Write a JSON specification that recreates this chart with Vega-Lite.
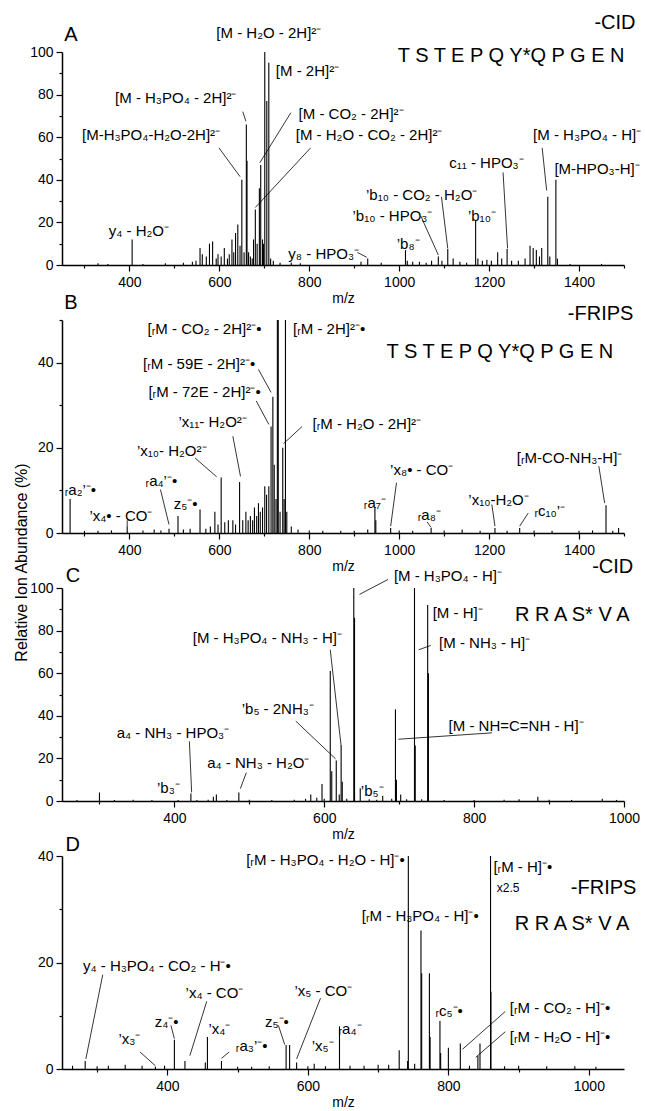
{
"$schema":"https://vega.github.io/schema/vega-lite/v6.json",
"padding":{"left":12,"top":13,"right":0,"bottom":0},
"background":"white",
"spacing":55,
"bounds":"flush",
"config":{
 "view":{"stroke":null},
 "axis":{"domainColor":"black","domainWidth":1.5,"tickColor":"black","tickWidth":1.2,"labelFont":"Liberation Sans","labelFontSize":14,"labelColor":"black","labelPadding":3,"titleFont":"Liberation Sans","titleFontSize":14,"titleFontWeight":"normal","titleColor":"black","grid":false,"labelOverlap":false,"labelBound":false,"labelFlush":false},
 "axisX":{"labelPadding":4,"titlePadding":2}
},
"datasets":{
"peaks":[
{"p":"A","mz":330,"v":0.8},{"p":"A","mz":352,"v":0.5},{"p":"A","mz":406,"v":12},{"p":"A","mz":430,"v":0.5},{"p":"A","mz":480,"v":0.8},{"p":"A","mz":520,"v":1},{"p":"A","mz":540,"v":1.5},{"p":"A","mz":548,"v":2},
{"p":"A","mz":557,"v":8},{"p":"A","mz":562,"v":5},{"p":"A","mz":571,"v":4},{"p":"A","mz":578,"v":10},{"p":"A","mz":585,"v":11},{"p":"A","mz":593,"v":3},{"p":"A","mz":597,"v":5},{"p":"A","mz":604,"v":4},{"p":"A","mz":611,"v":8},{"p":"A","mz":618,"v":3},{"p":"A","mz":622,"v":5},{"p":"A","mz":628,"v":12},{"p":"A","mz":632,"v":6},{"p":"A","mz":636,"v":15},{"p":"A","mz":641,"v":19},{"p":"A","mz":646,"v":9},{"p":"A","mz":650,"v":40},{"p":"A","mz":655,"v":6},{"p":"A","mz":660,"v":66},{"p":"A","mz":661.5,"v":49},{"p":"A","mz":665,"v":6},{"p":"A","mz":669,"v":4},{"p":"A","mz":673,"v":3},{"p":"A","mz":676,"v":12},{"p":"A","mz":680,"v":26},{"p":"A","mz":684,"v":10},{"p":"A","mz":689,"v":36},{"p":"A","mz":692,"v":47},{"p":"A","mz":696,"v":12},{"p":"A","mz":698,"v":10},{"p":"A","mz":701,"v":100},{"p":"A","mz":705.5,"v":77},{"p":"A","mz":710,"v":95},{"p":"A","mz":714,"v":3},{"p":"A","mz":720,"v":2},{"p":"A","mz":735,"v":1},{"p":"A","mz":760,"v":1},{"p":"A","mz":780,"v":0.8},
{"p":"A","mz":915,"v":1.5},{"p":"A","mz":930,"v":3},{"p":"A","mz":960,"v":1},{"p":"A","mz":1014,"v":7},{"p":"A","mz":1018,"v":2},{"p":"A","mz":1030,"v":1.5},{"p":"A","mz":1045,"v":1.5},{"p":"A","mz":1060,"v":1},{"p":"A","mz":1072,"v":2},{"p":"A","mz":1087,"v":4},{"p":"A","mz":1095,"v":2},{"p":"A","mz":1108,"v":7.5},{"p":"A","mz":1120,"v":3},{"p":"A","mz":1135,"v":1.5},{"p":"A","mz":1150,"v":1},{"p":"A","mz":1170,"v":21},{"p":"A","mz":1175,"v":3},{"p":"A","mz":1185,"v":2},{"p":"A","mz":1195,"v":2.5},{"p":"A","mz":1205,"v":2},{"p":"A","mz":1219,"v":6},{"p":"A","mz":1228,"v":3},{"p":"A","mz":1240,"v":7.5},{"p":"A","mz":1250,"v":2},{"p":"A","mz":1265,"v":2},{"p":"A","mz":1280,"v":3},{"p":"A","mz":1291,"v":9},{"p":"A","mz":1298,"v":8},{"p":"A","mz":1305,"v":7},{"p":"A","mz":1312,"v":4},{"p":"A","mz":1317,"v":8},{"p":"A","mz":1330.5,"v":32},{"p":"A","mz":1335,"v":4},{"p":"A","mz":1348.5,"v":40},{"p":"A","mz":1352,"v":3},{"p":"A","mz":1380,"v":0.5},{"p":"A","mz":1450,"v":0.5},
{"p":"B","mz":268,"v":8},{"p":"B","mz":300,"v":0.5},{"p":"B","mz":330,"v":0.5},{"p":"B","mz":360,"v":0.6},{"p":"B","mz":395,"v":1.5},{"p":"B","mz":430,"v":0.6},{"p":"B","mz":455,"v":0.8},{"p":"B","mz":470,"v":0.6},{"p":"B","mz":488,"v":1},{"p":"B","mz":508,"v":4},{"p":"B","mz":520,"v":0.8},{"p":"B","mz":535,"v":1},{"p":"B","mz":557,"v":5.5},{"p":"B","mz":570,"v":1},{"p":"B","mz":580,"v":1.5},{"p":"B","mz":590,"v":5},{"p":"B","mz":597,"v":2},{"p":"B","mz":604,"v":13},{"p":"B","mz":612,"v":2.5},{"p":"B","mz":620,"v":3},{"p":"B","mz":630,"v":3},{"p":"B","mz":636,"v":2},{"p":"B","mz":645,"v":12},{"p":"B","mz":652,"v":3},{"p":"B","mz":659,"v":5},{"p":"B","mz":664,"v":3},{"p":"B","mz":669,"v":4},{"p":"B","mz":674,"v":3},{"p":"B","mz":678,"v":6},{"p":"B","mz":683,"v":4},{"p":"B","mz":687,"v":7},{"p":"B","mz":691,"v":5},{"p":"B","mz":696,"v":6},{"p":"B","mz":701,"v":11},{"p":"B","mz":705,"v":9},{"p":"B","mz":710,"v":11},{"p":"B","mz":715,"v":25},{"p":"B","mz":719,"v":32},{"p":"B","mz":722,"v":16},{"p":"B","mz":726,"v":8},{"p":"B","mz":729,"v":100},{"p":"B","mz":731,"v":60},{"p":"B","mz":735,"v":5},{"p":"B","mz":741,"v":20},{"p":"B","mz":744,"v":8},{"p":"B","mz":747,"v":100},{"p":"B","mz":750,"v":5},{"p":"B","mz":760,"v":1.5},{"p":"B","mz":775,"v":0.8},{"p":"B","mz":800,"v":0.6},{"p":"B","mz":830,"v":0.5},{"p":"B","mz":870,"v":0.5},{"p":"B","mz":900,"v":0.5},{"p":"B","mz":930,"v":0.8},{"p":"B","mz":946,"v":6},{"p":"B","mz":948,"v":3},{"p":"B","mz":981,"v":1.2},{"p":"B","mz":1000,"v":0.6},{"p":"B","mz":1030,"v":0.5},{"p":"B","mz":1071,"v":1.2},{"p":"B","mz":1100,"v":0.6},{"p":"B","mz":1140,"v":0.8},{"p":"B","mz":1180,"v":0.5},{"p":"B","mz":1213,"v":1.2},{"p":"B","mz":1240,"v":0.5},{"p":"B","mz":1268,"v":1.2},{"p":"B","mz":1300,"v":0.6},{"p":"B","mz":1340,"v":0.5},{"p":"B","mz":1400,"v":0.5},{"p":"B","mz":1430,"v":0.6},{"p":"B","mz":1460,"v":6.5},{"p":"B","mz":1475,"v":0.5},{"p":"B","mz":1488,"v":1.2},
{"p":"C","mz":270,"v":0.5},{"p":"C","mz":300,"v":4},{"p":"C","mz":320,"v":0.5},{"p":"C","mz":345,"v":0.6},{"p":"C","mz":370,"v":0.5},{"p":"C","mz":405,"v":0.5},{"p":"C","mz":422,"v":3.5},{"p":"C","mz":430,"v":0.5},{"p":"C","mz":445,"v":0.6},{"p":"C","mz":452,"v":2},{"p":"C","mz":456,"v":3},{"p":"C","mz":470,"v":0.5},{"p":"C","mz":486,"v":4},{"p":"C","mz":500,"v":0.6},{"p":"C","mz":530,"v":0.5},{"p":"C","mz":560,"v":0.6},{"p":"C","mz":575,"v":1},{"p":"C","mz":582,"v":3},{"p":"C","mz":590,"v":1.5},{"p":"C","mz":597,"v":8},{"p":"C","mz":600,"v":1},{"p":"C","mz":608,"v":61},{"p":"C","mz":610,"v":14},{"p":"C","mz":616,"v":19},{"p":"C","mz":620,"v":3},{"p":"C","mz":622.5,"v":26},{"p":"C","mz":624,"v":9},{"p":"C","mz":630,"v":1},{"p":"C","mz":639.4,"v":100},{"p":"C","mz":640.4,"v":86},{"p":"C","mz":648,"v":6},{"p":"C","mz":660,"v":0.8},{"p":"C","mz":670,"v":0.6},{"p":"C","mz":678,"v":2.5},{"p":"C","mz":690,"v":1},{"p":"C","mz":695,"v":43},{"p":"C","mz":696.3,"v":10},{"p":"C","mz":702,"v":3},{"p":"C","mz":710,"v":0.8},{"p":"C","mz":720.4,"v":100},{"p":"C","mz":721.4,"v":26},{"p":"C","mz":730,"v":0.8},{"p":"C","mz":738,"v":92},{"p":"C","mz":739,"v":60},{"p":"C","mz":760,"v":0.5},{"p":"C","mz":800,"v":0.5},{"p":"C","mz":840,"v":0.6},{"p":"C","mz":860,"v":0.8},{"p":"C","mz":885,"v":2},{"p":"C","mz":900,"v":0.6},{"p":"C","mz":930,"v":0.5},{"p":"C","mz":971,"v":1},{"p":"C","mz":990,"v":0.5},
{"p":"D","mz":265,"v":0.6},{"p":"D","mz":283,"v":1.5},{"p":"D","mz":300,"v":0.5},{"p":"D","mz":316,"v":0.6},{"p":"D","mz":340,"v":0.8},{"p":"D","mz":364,"v":0.6},{"p":"D","mz":383,"v":0.4},{"p":"D","mz":396,"v":0.6},{"p":"D","mz":410,"v":5.5},{"p":"D","mz":425,"v":1.5},{"p":"D","mz":454,"v":1.2},{"p":"D","mz":457,"v":6},{"p":"D","mz":477,"v":1.5},{"p":"D","mz":500,"v":0.4},{"p":"D","mz":520,"v":0.4},{"p":"D","mz":545,"v":0.5},{"p":"D","mz":569,"v":4.5},{"p":"D","mz":574,"v":4.5},{"p":"D","mz":584,"v":1.2},{"p":"D","mz":600,"v":0.5},{"p":"D","mz":609,"v":1},{"p":"D","mz":625,"v":0.5},{"p":"D","mz":645,"v":8},{"p":"D","mz":660,"v":0.6},{"p":"D","mz":680,"v":0.6},{"p":"D","mz":700,"v":0.8},{"p":"D","mz":715,"v":0.8},{"p":"D","mz":730,"v":3.5},{"p":"D","mz":742,"v":1.5},{"p":"D","mz":743,"v":45},{"p":"D","mz":752,"v":1},{"p":"D","mz":761,"v":26},{"p":"D","mz":762,"v":18},{"p":"D","mz":773,"v":18},{"p":"D","mz":774,"v":6},{"p":"D","mz":788,"v":9},{"p":"D","mz":789,"v":3},{"p":"D","mz":800,"v":4},{"p":"D","mz":817,"v":4.8},{"p":"D","mz":830,"v":0.6},{"p":"D","mz":842,"v":2.5},{"p":"D","mz":845,"v":4.8},{"p":"D","mz":860,"v":45},{"p":"D","mz":860.6,"v":14.5},{"p":"D","mz":880,"v":0.5},{"p":"D","mz":900,"v":0.6},{"p":"D","mz":940,"v":0.5},{"p":"D","mz":980,"v":0.5},{"p":"D","mz":1010,"v":0.4}
],
"leaders":[
{"p":"A","mz":652,"v":72,"mz2":659,"v2":67.5},{"p":"A","mz":599,"v":55,"mz2":646,"v2":41.5},{"p":"A","mz":759,"v":71.5,"mz2":690,"v2":48},{"p":"A","mz":803,"v":55,"mz2":680,"v2":27},{"p":"A","mz":907,"v":5.9,"mz2":928,"v2":3.6},{"p":"A","mz":1048,"v":23,"mz2":1087,"v2":4.7},{"p":"A","mz":1094,"v":32,"mz2":1108,"v2":7.8},{"p":"A","mz":1231,"v":43.5,"mz2":1241,"v2":7.8},{"p":"A","mz":1318,"v":55,"mz2":1328,"v2":35},
{"p":"B","mz":687,"v":38.4,"mz2":715,"v2":33},{"p":"B","mz":682,"v":31,"mz2":710,"v2":25.5},{"p":"B","mz":630,"v":22.7,"mz2":647,"v2":13.3},{"p":"B","mz":546,"v":17.6,"mz2":594,"v2":13.2},{"p":"B","mz":784,"v":25,"mz2":743,"v2":21},{"p":"B","mz":469,"v":10.2,"mz2":488,"v2":2},{"p":"B","mz":395,"v":3,"mz2":395,"v2":1.5},{"p":"B","mz":994,"v":11.8,"mz2":981,"v2":1.6},{"p":"B","mz":1062,"v":2.6,"mz2":1071,"v2":1.3},{"p":"B","mz":1206,"v":6.7,"mz2":1213,"v2":1.6},{"p":"B","mz":1287,"v":4.7,"mz2":1268,"v2":1.6},{"p":"B","mz":1444,"v":15.7,"mz2":1457,"v2":7},
{"p":"C","mz":685,"v":104,"mz2":647,"v2":97},{"p":"C","mz":608,"v":71,"mz2":622.5,"v2":25.8},{"p":"C","mz":742,"v":73,"mz2":726,"v2":71},{"p":"C","mz":562,"v":37.5,"mz2":615,"v2":19.8},{"p":"C","mz":824,"v":32,"mz2":699,"v2":29},{"p":"C","mz":420,"v":28,"mz2":423,"v2":4},{"p":"C","mz":496,"v":13.3,"mz2":488,"v2":5.8},
{"p":"D","mz":308,"v":17.7,"mz2":284,"v2":1.9},{"p":"D","mz":361,"v":3.2,"mz2":383,"v2":0.6},{"p":"D","mz":405,"v":8.2,"mz2":410,"v2":5.7},{"p":"D","mz":456,"v":12.7,"mz2":432,"v2":2.5},{"p":"D","mz":488,"v":3.2,"mz2":477,"v2":2},{"p":"D","mz":558,"v":8.2,"mz2":567,"v2":4.6},{"p":"D","mz":618,"v":13.3,"mz2":584,"v2":1.9},{"p":"D","mz":881,"v":10.8,"mz2":820,"v2":3.7},{"p":"D","mz":881,"v":7,"mz2":839,"v2":2.2}
],
"labels":[
{"p":"A","mz":710,"v":109,"t":"[M - H₂O - 2H]²⁻"},{"p":"A","mz":796,"v":91,"t":"[M - 2H]²⁻"},{"p":"A","mz":503,"v":78.5,"t":"[M - H₃PO₄ - 2H]²⁻"},{"p":"A","mz":893,"v":71,"t":"[M - CO₂ - 2H]²⁻"},{"p":"A","mz":448,"v":61,"t":"[M-H₃PO₄-H₂O-2H]²⁻"},{"p":"A","mz":933,"v":61,"t":"[M - H₂O - CO₂ - 2H]²⁻"},{"p":"A","mz":421,"v":16,"t":"y₄ - H₂O⁻"},{"p":"A","mz":832,"v":5,"t":"y₈ - HPO₃⁻"},{"p":"A","mz":1020,"v":10,"t":"’b₈⁻"},{"p":"A","mz":985,"v":23,"t":"’b₁₀ - HPO₃⁻"},{"p":"A","mz":1050,"v":33,"t":"’b₁₀ - CO₂ - H₂O⁻"},{"p":"A","mz":1184,"v":23,"t":"’b₁₀⁻"},{"p":"A","mz":1194,"v":48,"t":"c₁₁ - HPO₃⁻"},{"p":"A","mz":1418,"v":61,"t":"[M - H₃PO₄ - H]⁻"},{"p":"A","mz":1440,"v":45,"t":"[M-HPO₃-H]⁻"},
{"p":"B","mz":567,"v":47.8,"t":"[ᵣM - CO₂ - 2H]²⁻•"},{"p":"B","mz":844,"v":47.8,"t":"[ᵣM - 2H]²⁻•"},{"p":"B","mz":555,"v":39.6,"t":"[ᵣM - 59E - 2H]²⁻•"},{"p":"B","mz":567,"v":33,"t":"[ᵣM - 72E - 2H]²⁻•"},{"p":"B","mz":585,"v":26,"t":"’x₁₁- H₂O²⁻"},{"p":"B","mz":494,"v":19.2,"t":"’x₁₀- H₂O²⁻"},{"p":"B","mz":928,"v":25.5,"t":"[ᵣM - H₂O - 2H]²⁻"},{"p":"B","mz":291,"v":10.2,"t":"ᵣa₂’⁻•"},{"p":"B","mz":381,"v":3.9,"t":"’x₄• - CO⁻"},{"p":"B","mz":471,"v":12.2,"t":"ᵣa₄’⁻•"},{"p":"B","mz":525,"v":6.7,"t":"z₅⁻•"},{"p":"B","mz":946,"v":7,"t":"ᵣa₇⁻"},{"p":"B","mz":1050,"v":14.9,"t":"’x₈• - CO⁻"},{"p":"B","mz":1067,"v":4.3,"t":"ᵣa₈⁻"},{"p":"B","mz":1221,"v":7.8,"t":"’x₁₀-H₂O⁻"},{"p":"B","mz":1335,"v":5.1,"t":"ᵣc₁₀’⁻"},{"p":"B","mz":1379,"v":17.6,"t":"[ᵣM-CO-NH₃-H]⁻"},
{"p":"C","mz":765,"v":105.5,"t":"[M - H₃PO₄ - H]⁻"},{"p":"C","mz":778,"v":88.3,"t":"[M - H]⁻"},{"p":"C","mz":524,"v":76.6,"t":"[M - H₃PO₄ - NH₃ - H]⁻"},{"p":"C","mz":814,"v":74.2,"t":"[M - NH₃ - H]⁻"},{"p":"C","mz":538,"v":43,"t":"’b₅ - 2NH₃⁻"},{"p":"C","mz":856,"v":35,"t":"[M - NH=C=NH - H]⁻"},{"p":"C","mz":398,"v":32,"t":"a₄ - NH₃ - HPO₃⁻"},{"p":"C","mz":512,"v":18,"t":"a₄ - NH₃ - H₂O⁻"},{"p":"C","mz":392,"v":6.3,"t":"’b₃⁻"},{"p":"C","mz":664,"v":4.7,"t":"’b₅⁻"},
{"p":"D","mz":625,"v":39.2,"t":"[ᵣM - H₃PO₄ - H₂O - H]⁻•"},{"p":"D","mz":906,"v":38,"t":"[ᵣM - H]⁻•"},{"p":"D","mz":760,"v":28.8,"t":"[ᵣM - H₃PO₄ - H]⁻•"},{"p":"D","mz":385,"v":19.3,"t":"y₄ - H₃PO₄ - CO₂ - H⁻•"},{"p":"D","mz":467,"v":14.2,"t":"’x₄ - CO⁻"},{"p":"D","mz":622,"v":14.6,"t":"’x₅ - CO⁻"},{"p":"D","mz":399,"v":8.9,"t":"z₄⁻•"},{"p":"D","mz":346,"v":5.7,"t":"’x₃⁻"},{"p":"D","mz":474,"v":7.6,"t":"’x₄⁻"},{"p":"D","mz":520,"v":4.4,"t":"ᵣa₃’⁻•"},{"p":"D","mz":556,"v":8.9,"t":"z₅⁻•"},{"p":"D","mz":621,"v":4.4,"t":"’x₅⁻"},{"p":"D","mz":660,"v":7.6,"t":"ᵣa₄⁻"},{"p":"D","mz":801,"v":10.8,"t":"ᵣc₅⁻•"},{"p":"D","mz":959,"v":11.4,"t":"[ᵣM - CO₂ - H]⁻•"},{"p":"D","mz":959,"v":6,"t":"[ᵣM - H₂O - H]⁻•"}
],
"small":[{"p":"D","mz":885,"v":33.9,"t":"x2.5"}],
"heads":[
{"p":"A","mz":1480,"v":113.5,"t":"-CID"},{"p":"A","mz":1249,"v":98,"t":"T S T E P Q Y*Q P G E N"},
{"p":"B","mz":1448,"v":51.4,"t":"-FRIPS"},{"p":"B","mz":1224,"v":42.4,"t":"T S T E P Q Y*Q P G E N"},
{"p":"C","mz":985,"v":110,"t":"-CID"},{"p":"C","mz":931,"v":87.5,"t":"R R A S* V A"},
{"p":"D","mz":1021,"v":33.9,"t":"-FRIPS"},{"p":"D","mz":976,"v":27.2,"t":"R R A S* V A"}
],
"letters":[
{"p":"A","mz":255,"v":108,"t":"A"},{"p":"B","mz":255,"v":54,"t":"B"},{"p":"C","mz":255,"v":105.5,"t":"C"},{"p":"D","mz":255,"v":42,"t":"D"}
]
},
"vconcat":[
{
 "width":562,"height":213,
 "encoding":{
  "x":{"field":"mz","type":"quantitative","scale":{"domain":[250,1500],"nice":false,"zero":false},"axis":{"values":[300,400,500,600,700,800,900,1000,1100,1200,1300,1400,1500],"format":"d","labelExpr":"datum.value % 200 === 0 ? datum.label : ''","tickSize":{"condition":{"test":"datum.value % 200 !== 0","value":3},"value":6},"title":"m/z"}},
  "y":{"field":"v","type":"quantitative","scale":{"domain":[0,100],"nice":false},"axis":{"values":[0,10,20,30,40,50,60,70,80,90,100],"labelExpr":"datum.value % 20 === 0 ? datum.label : ''","tickSize":{"condition":{"test":"datum.value % 20 !== 0","value":3},"value":6},"title":null}}
 },
 "layer":[
  {"data":{"name":"peaks"},"transform":[{"filter":"datum.p === 'A'"}],"mark":{"type":"rule","clip":true,"strokeWidth":1.1,"color":"black"},"encoding":{"y2":{"datum":0}}},
  {"data":{"name":"leaders"},"transform":[{"filter":"datum.p === 'A'"}],"mark":{"type":"rule","strokeWidth":0.8,"color":"black"},"encoding":{"x2":{"field":"mz2"},"y2":{"field":"v2"}}},
  {"data":{"name":"labels"},"transform":[{"filter":"datum.p === 'A'"}],"mark":{"type":"text","font":"Liberation Sans","fontSize":15,"color":"black"},"encoding":{"text":{"field":"t"}}},
  {"data":{"name":"heads"},"transform":[{"filter":"datum.p === 'A'"}],"mark":{"type":"text","font":"Liberation Sans","fontSize":20,"color":"black"},"encoding":{"text":{"field":"t"}}},
  {"data":{"name":"letters"},"transform":[{"filter":"datum.p === 'A'"}],"mark":{"type":"text","font":"Liberation Sans","fontSize":20,"align":"left","color":"black"},"encoding":{"text":{"field":"t"}}}
 ]
},
{
 "width":562,"height":213,
 "encoding":{
  "x":{"field":"mz","type":"quantitative","scale":{"domain":[250,1500],"nice":false,"zero":false},"axis":{"values":[300,400,500,600,700,800,900,1000,1100,1200,1300,1400,1500],"format":"d","labelExpr":"datum.value % 200 === 0 ? datum.label : ''","tickSize":{"condition":{"test":"datum.value % 200 !== 0","value":3},"value":6},"title":"m/z"}},
  "y":{"field":"v","type":"quantitative","scale":{"domain":[0,50],"nice":false},"axis":{"values":[0,10,20,30,40,50],"labelExpr":"datum.value % 20 === 0 ? datum.label : ''","tickSize":{"condition":{"test":"datum.value % 20 !== 0","value":3},"value":6},"title":null}}
 },
 "layer":[
  {"data":{"name":"peaks"},"transform":[{"filter":"datum.p === 'B'"}],"mark":{"type":"rule","clip":true,"strokeWidth":1.1,"color":"black"},"encoding":{"y2":{"datum":0}}},
  {"data":{"name":"leaders"},"transform":[{"filter":"datum.p === 'B'"}],"mark":{"type":"rule","strokeWidth":0.8,"color":"black"},"encoding":{"x2":{"field":"mz2"},"y2":{"field":"v2"}}},
  {"data":{"name":"labels"},"transform":[{"filter":"datum.p === 'B'"}],"mark":{"type":"text","font":"Liberation Sans","fontSize":15,"color":"black"},"encoding":{"text":{"field":"t"}}},
  {"data":{"name":"heads"},"transform":[{"filter":"datum.p === 'B'"}],"mark":{"type":"text","font":"Liberation Sans","fontSize":20,"color":"black"},"encoding":{"text":{"field":"t"}}},
  {"data":{"name":"letters"},"transform":[{"filter":"datum.p === 'B'"}],"mark":{"type":"text","font":"Liberation Sans","fontSize":20,"align":"left","color":"black"},"encoding":{"text":{"field":"t"}}}
 ]
},
{
 "width":562,"height":213,
 "encoding":{
  "x":{"field":"mz","type":"quantitative","scale":{"domain":[250,1000],"nice":false,"zero":false},"axis":{"values":[300,400,500,600,700,800,900,1000],"format":"d","labelExpr":"datum.value % 200 === 0 ? datum.label : ''","tickSize":{"condition":{"test":"datum.value % 200 !== 0","value":3},"value":6},"title":"m/z"}},
  "y":{"field":"v","type":"quantitative","scale":{"domain":[0,100],"nice":false},"axis":{"values":[0,10,20,30,40,50,60,70,80,90,100],"labelExpr":"datum.value % 20 === 0 ? datum.label : ''","tickSize":{"condition":{"test":"datum.value % 20 !== 0","value":3},"value":6},"title":"Relative Ion Abundance (%)","titleFontSize":16,"titleX":-33,"titleY":-26}}
 },
 "layer":[
  {"data":{"name":"peaks"},"transform":[{"filter":"datum.p === 'C'"}],"mark":{"type":"rule","clip":true,"strokeWidth":1.1,"color":"black"},"encoding":{"y2":{"datum":0}}},
  {"data":{"name":"leaders"},"transform":[{"filter":"datum.p === 'C'"}],"mark":{"type":"rule","strokeWidth":0.8,"color":"black"},"encoding":{"x2":{"field":"mz2"},"y2":{"field":"v2"}}},
  {"data":{"name":"labels"},"transform":[{"filter":"datum.p === 'C'"}],"mark":{"type":"text","font":"Liberation Sans","fontSize":15,"color":"black"},"encoding":{"text":{"field":"t"}}},
  {"data":{"name":"heads"},"transform":[{"filter":"datum.p === 'C'"}],"mark":{"type":"text","font":"Liberation Sans","fontSize":20,"color":"black"},"encoding":{"text":{"field":"t"}}},
  {"data":{"name":"letters"},"transform":[{"filter":"datum.p === 'C'"}],"mark":{"type":"text","font":"Liberation Sans","fontSize":20,"align":"left","color":"black"},"encoding":{"text":{"field":"t"}}}
 ]
},
{
 "width":562,"height":213,
 "encoding":{
  "x":{"field":"mz","type":"quantitative","scale":{"domain":[250,1050],"nice":false,"zero":false},"axis":{"values":[300,400,500,600,700,800,900,1000],"format":"d","labelExpr":"datum.value % 200 === 0 ? datum.label : ''","tickSize":{"condition":{"test":"datum.value % 200 !== 0","value":3},"value":6},"title":"m/z"}},
  "y":{"field":"v","type":"quantitative","scale":{"domain":[0,40],"nice":false},"axis":{"values":[0,10,20,30,40],"labelExpr":"datum.value % 20 === 0 ? datum.label : ''","tickSize":{"condition":{"test":"datum.value % 20 !== 0","value":3},"value":6},"title":null}}
 },
 "layer":[
  {"data":{"name":"peaks"},"transform":[{"filter":"datum.p === 'D'"}],"mark":{"type":"rule","clip":true,"strokeWidth":1.1,"color":"black"},"encoding":{"y2":{"datum":0}}},
  {"data":{"name":"leaders"},"transform":[{"filter":"datum.p === 'D'"}],"mark":{"type":"rule","strokeWidth":0.8,"color":"black"},"encoding":{"x2":{"field":"mz2"},"y2":{"field":"v2"}}},
  {"data":{"name":"labels"},"transform":[{"filter":"datum.p === 'D'"}],"mark":{"type":"text","font":"Liberation Sans","fontSize":15,"color":"black"},"encoding":{"text":{"field":"t"}}},
  {"data":{"name":"small"},"transform":[{"filter":"datum.p === 'D'"}],"mark":{"type":"text","font":"Liberation Sans","fontSize":12,"color":"black"},"encoding":{"text":{"field":"t"}}},
  {"data":{"name":"heads"},"transform":[{"filter":"datum.p === 'D'"}],"mark":{"type":"text","font":"Liberation Sans","fontSize":20,"color":"black"},"encoding":{"text":{"field":"t"}}},
  {"data":{"name":"letters"},"transform":[{"filter":"datum.p === 'D'"}],"mark":{"type":"text","font":"Liberation Sans","fontSize":20,"align":"left","color":"black"},"encoding":{"text":{"field":"t"}}}
 ]
}
]
}
